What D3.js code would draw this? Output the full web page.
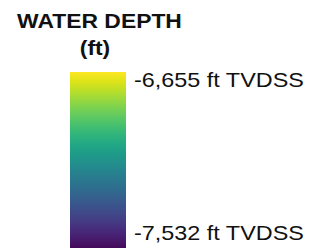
<!DOCTYPE html>
<html>
<head>
<meta charset="utf-8">
<script src="https://cdn.jsdelivr.net/npm/d3@7"></script>
<style>
  body { margin: 0; background: #fff; }
  text { font-family: "Liberation Sans", Arial, sans-serif; fill: #111; }
</style>
</head>
<body>
<svg id="chart" width="315" height="248"></svg>
<script>
"use strict";

// legend data
var titleLines = ["WATER DEPTH", "(ft)"];
var depthExtent = [-7532, -6655];   // bottom, top
var depthUnit = " ft TVDSS";

var svg = d3.select("#chart");
var barX = 70, barW = 56, barTop = 72, barBottom = 252;

// titre
svg.selectAll("text.title")
  .data(titleLines)
  .enter()
  .append("text")
  .attr("class", "title")
  .attr("text-anchor", "middle")
  .attr("transform", (d, i) => "translate(" + (i === 0 ? 99.5 : 95) + "," + (i === 0 ? 27.5 : 55) + ") scale(1.09,1)")
  .style("font-weight", "bold")
  .style("font-size", "21px")
  .text(d => d);

// barre de couleur viridis
var color = d3.scaleSequential(d3.interpolateViridis).domain(depthExtent);
var y = d3.scaleLinear().domain(depthExtent).range([barBottom, barTop]);

var grad = svg.append("defs").append("linearGradient")
  .attr("id", "viridis")
  .attr("x1", 0).attr("y1", 1).attr("x2", 0).attr("y2", 0);

grad.selectAll("stop")
  .data(d3.range(0, 1.0001, 0.05))
  .enter()
  .append("stop")
  .attr("offset", d => d)
  .attr("stop-color", d => color(depthExtent[0] + d * (depthExtent[1] - depthExtent[0])));

svg.append("rect")
  .attr("x", barX)
  .attr("y", y(depthExtent[1]))
  .attr("width", barW)
  .attr("height", y(depthExtent[0]) - y(depthExtent[1]))
  .attr("fill", "url(#viridis)");

// étiquettes
var fmt = d3.format(",");
svg.selectAll("text.lab")
  .data(depthExtent)
  .enter()
  .append("text")
  .attr("class", "lab")
  .attr("transform", (d, i) => "translate(134," + (i === 0 ? 239.5 : 86.5) + ") scale(1.17,1)")
  .style("font-size", "20px")
  .text(d => fmt(d).replace("\u2212", "-") + depthUnit);
</script>
</body>
</html>
